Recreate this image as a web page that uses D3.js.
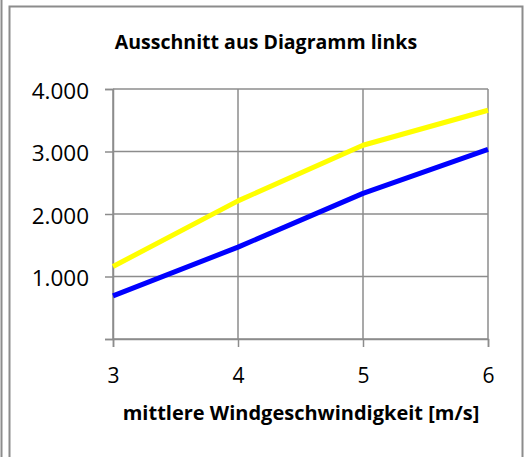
<!DOCTYPE html>
<html>
<head>
<meta charset="utf-8">
<script src="https://cdn.jsdelivr.net/npm/d3@7"></script>
<style>
  body { margin: 0; background: #fff; }
  text { font-family: "Open Sans", sans-serif; fill: #000; }
</style>
</head>
<body>
<svg id="chart" width="525" height="457"></svg>
<script>
// wind speed categories (x) and the two series
var windSpeeds = [3, 4, 5, 6];
var yellowSeries = [1160, 2210, 3100, 3660];
var blueSeries = [690, 1470, 2330, 3035];
var yTicks = [0, 1000, 2000, 3000, 4000];
var xTicks = [3, 4, 5, 6];
var chartTitle = "Ausschnitt aus Diagramm links";
var xTitle = "mittlere Windgeschwindigkeit [m/s]";

var svg = d3.select('#chart');
var gray = '#8c8c8c';

// frame lines around the chart
svg.append('line').attr('x1', 1.5).attr('x2', 1.5).attr('y1', 0).attr('y2', 457)
  .attr('stroke', gray).attr('stroke-width', 2);
svg.append('path').attr('d', 'M9.5,457 V6.5 H522.5 V457')
  .attr('fill', 'none').attr('stroke', gray).attr('stroke-width', 2);

var x = d3.scaleLinear().domain([3, 6]).range([113, 488]);
var y = d3.scaleLinear().domain([0, 4000]).range([339, 89]);

var fmt = function(d) {
  return d === 0 ? '' : d3.format(',')(d).replace(',', '.');
};

// gridlines
svg.append('g').selectAll('line.h').data(yTicks).enter().append('line')
  .attr('x1', 113).attr('x2', 488)
  .attr('y1', function(d) { return y(d); }).attr('y2', function(d) { return y(d); })
  .attr('stroke', gray).attr('stroke-width', 1.5);
svg.append('g').selectAll('line.v').data(xTicks).enter().append('line')
  .attr('x1', function(d) { return x(d); }).attr('x2', function(d) { return x(d); })
  .attr('y1', 89).attr('y2', 339)
  .attr('stroke', gray).attr('stroke-width', 1.5);

// axes
var yAxis = svg.append('g').attr('transform', 'translate(113,0)')
  .call(d3.axisLeft(y).tickValues(yTicks).tickSize(8).tickPadding(16).tickFormat(fmt));
var xAxis = svg.append('g').attr('transform', 'translate(0,339)')
  .call(d3.axisBottom(x).tickValues(xTicks).tickSize(8).tickPadding(21).tickFormat(d3.format('d')));
[yAxis, xAxis].forEach(function(a) {
  a.select('.domain').attr('stroke', gray).attr('stroke-width', 1.5);
  a.selectAll('.tick line').attr('stroke', gray).attr('stroke-width', 1.5);
  a.selectAll('.tick text').style('font-family', '"Open Sans", sans-serif')
    .attr('fill', '#000');
});
yAxis.selectAll('.tick text').style('font-size', '22.5px').attr('dy', '0.42em');
xAxis.selectAll('.tick text').style('font-size', '21px');

// series lines
var line = d3.line()
  .x(function(d, i) { return x(windSpeeds[i]); })
  .y(function(d) { return y(d); });

svg.append('path').datum(yellowSeries).attr('d', line)
  .attr('fill', 'none').attr('stroke', '#ffff00').attr('stroke-width', 5)
  .attr('stroke-linejoin', 'round');
svg.append('path').datum(blueSeries).attr('d', line)
  .attr('fill', 'none').attr('stroke', '#0000ff').attr('stroke-width', 5)
  .attr('stroke-linejoin', 'round');

// titles
svg.append('text').attr('x', 266).attr('y', 49).attr('text-anchor', 'middle')
  .style('font-size', '19.5px').style('font-weight', 'bold').text(chartTitle);
svg.append('text').attr('x', 301).attr('y', 420).attr('text-anchor', 'middle')
  .style('font-size', '20px').style('font-weight', 'bold').text(xTitle);
</script>
</body>
</html>
